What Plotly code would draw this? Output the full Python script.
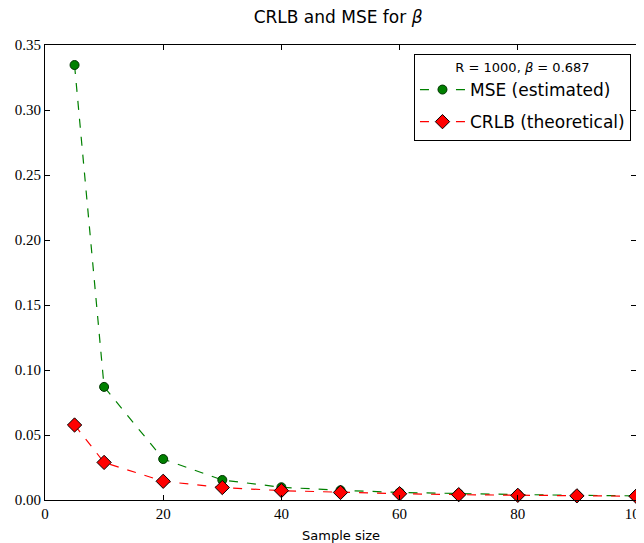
import plotly.graph_objects as go

sample_size = [5, 10, 20, 30, 40, 50, 60, 70, 80, 90, 100]
mse_estimated = [0.3346, 0.0870, 0.0315, 0.0154, 0.0098, 0.0075, 0.0058, 0.0048, 0.0042, 0.0036, 0.0032]
crlb_theoretical = [0.0577, 0.0289, 0.0144, 0.0096, 0.0072, 0.0058, 0.0048, 0.0041, 0.0036, 0.0032, 0.0029]

x_ticks = [0, 20, 40, 60, 80, 100]
y_ticks = [0.00, 0.05, 0.10, 0.15, 0.20, 0.25, 0.30, 0.35]

fig = go.Figure()
fig.add_trace(go.Scatter(
    x=sample_size, y=mse_estimated, mode="lines+markers",
    name="MSE (estimated)", legendgroup="mse",
    line=dict(color="#008000", dash="dash", width=1.2),
    marker=dict(symbol="circle", size=9, color="#008000", line=dict(color="#003300", width=1)),
    cliponaxis=False,
))
fig.add_trace(go.Scatter(
    x=sample_size, y=crlb_theoretical, mode="lines+markers",
    name="CRLB (theoretical)", legendgroup="crlb",
    line=dict(color="#ff0000", dash="dash", width=1.2),
    marker=dict(symbol="diamond", size=11, color="#ff0000", line=dict(color="#000000", width=1)),
    cliponaxis=False,
))

axis_common = dict(
    showgrid=False, zeroline=False, showline=True, linecolor="black", linewidth=1.2,
    mirror="ticks", ticks="inside", ticklen=5, tickcolor="black", tickwidth=1,
    tickfont=dict(family="Liberation Serif", size=15, color="black"),
    automargin=False,
)

fig.update_layout(
    width=636, height=535,
    margin=dict(l=37, r=8, t=37, b=43),
    paper_bgcolor="white", plot_bgcolor="white",
    title=dict(text="CRLB and MSE for <i>β</i>", x=0.519, xanchor="center", y=0.983, yanchor="middle",
               font=dict(family="DejaVu Sans", size=17, color="black")),
    xaxis=dict(range=[0, 100], tickvals=x_ticks, ticktext=[str(v) for v in x_ticks],
               ticklabeloverflow="allow", **axis_common),
    yaxis=dict(range=[0, 0.35], tickvals=y_ticks, ticktext=[f"{v:.2f}" for v in y_ticks],
               ticklabeloverflow="allow", **axis_common),
    legend=dict(
        x=0.9915, xanchor="right", y=0.98, yanchor="top",
        bgcolor="white", bordercolor="black", borderwidth=1,
        font=dict(family="DejaVu Sans", size=17, color="black"),
        title=dict(text="R = 1000, <i>β</i> = 0.687", side="top center",
                   font=dict(family="DejaVu Sans", size=13, color="black")),
        itemwidth=45, tracegroupgap=7,
    ),
    showlegend=True,
    annotations=[dict(
        text="Sample size", xref="paper", yref="paper", x=0.5, y=0, yshift=-35,
        xanchor="center", yanchor="middle", showarrow=False,
        font=dict(family="DejaVu Sans", size=13, color="black"),
    )],
)

fig.write_html("out.html")
